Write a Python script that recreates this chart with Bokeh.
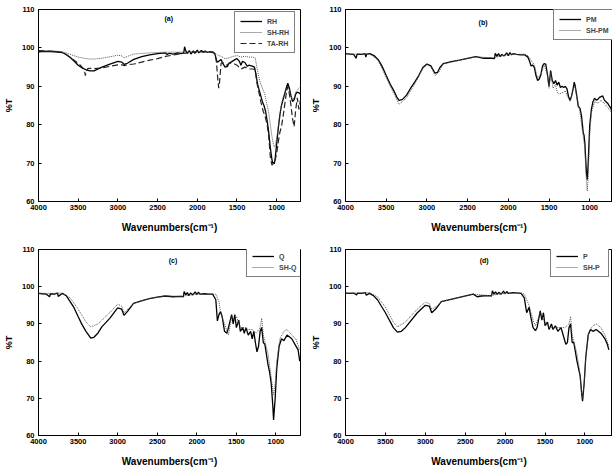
from bokeh.plotting import figure
from bokeh.layouts import gridplot
from bokeh.models import Range1d, FixedTicker, Legend, LegendItem, Label
from bokeh.embed import file_html
from bokeh.resources import INLINE

# ---------------- (a) rice husk series ----------------
RH_WN = [4000, 3900, 3800, 3700, 3650, 3600, 3550, 3500, 3450, 3400, 3350, 3300, 3250, 3200, 3100,
         3000, 2950, 2920, 2880, 2800, 2700, 2600, 2500, 2400, 2380, 2350, 2300, 2250, 2200, 2170,
         2160, 2150, 2130, 2100, 2080, 2050, 2030, 2000, 1980, 1950, 1920, 1900, 1870, 1850, 1800,
         1780, 1760, 1750, 1730, 1700, 1680, 1650, 1620, 1600, 1560, 1520, 1500, 1470, 1450, 1430,
         1400, 1370, 1350, 1300, 1280, 1260, 1240, 1220, 1200, 1180, 1160, 1140, 1120, 1100, 1080,
         1060, 1050, 1040, 1030, 1020, 1000, 980, 960, 940, 920, 900, 880, 860, 840, 820, 800, 780,
         760, 740, 720, 700]
RH_T = [99.0, 99.1, 99.0, 98.8, 98.2, 97.5, 96.5, 95.5, 94.8, 94.3, 94.0, 94.0, 94.5, 95.0, 95.8,
        96.5, 96.3, 95.7, 96.0, 97.0, 97.7, 98.2, 98.5, 98.7, 98.3, 98.6, 98.4, 98.7, 98.5, 98.8,
        100.3, 99.5, 98.6, 99.3, 98.4, 99.2, 98.6, 99.4, 98.7, 99.3, 98.9, 99.2, 98.8, 99.0, 98.8,
        98.5, 97.0, 96.3, 96.5, 97.0, 96.0, 95.0, 95.2, 96.0, 96.5, 97.0, 97.2, 96.5, 95.5, 96.5,
        96.2, 95.2, 95.5, 95.2, 95.0, 93.0, 90.5, 89.0, 87.5, 86.0, 85.0, 83.5, 81.0, 78.0, 74.0,
        71.0, 70.0, 70.2, 69.8, 71.0, 75.0, 79.0, 82.5, 85.0, 86.5, 88.0, 89.5, 90.8, 89.5, 87.5,
        86.0, 86.5, 88.0, 88.5, 88.3, 88.0]

SHRH_WN = [4000, 3800, 3700, 3650, 3600, 3500, 3400, 3350, 3300, 3200, 3100, 3000, 2950, 2920, 2880,
           2800, 2600, 2400, 2200, 2000, 1800, 1780, 1750, 1700, 1650, 1600, 1550, 1500, 1450, 1400,
           1350, 1300, 1270, 1250, 1220, 1200, 1150, 1100, 1080, 1060, 1040, 1030, 1020, 1000, 980,
           950, 920, 900, 880, 860, 840, 820, 800, 780, 760, 740, 720, 700]
SHRH_T = [99.2, 99.2, 99.0, 98.7, 98.3, 97.6, 97.2, 97.1, 97.1, 97.3, 97.7, 98.1, 97.9, 97.4, 97.8,
          98.4, 98.7, 98.9, 98.9, 99.0, 98.9, 98.7, 98.2, 97.8, 97.2, 97.4, 97.8, 98.0, 97.6, 97.8,
          97.6, 97.6, 97.4, 95.0, 92.0, 90.5, 88.0, 83.0, 80.0, 77.0, 74.8, 74.2, 74.3, 76.5, 79.5,
          84.0, 87.0, 88.0, 89.0, 90.0, 89.0, 87.5, 86.5, 87.0, 88.5, 89.0, 89.5, 90.0]

TARH_WN = [4000, 3800, 3700, 3650, 3600, 3500, 3450, 3420, 3410, 3400, 3380, 3350, 3300, 3200, 3100,
           3000, 2950, 2920, 2880, 2800, 2700, 2600, 2500, 2400, 2200, 2000, 1800, 1780, 1760, 1740,
           1730, 1720, 1700, 1680, 1650, 1620, 1600, 1550, 1500, 1450, 1400, 1350, 1300, 1270, 1250,
           1220, 1200, 1170, 1150, 1120, 1100, 1080, 1060, 1040, 1020, 1000, 980, 960, 940, 920, 900,
           880, 860, 840, 820, 800, 780, 760, 740, 720, 700]
TARH_T = [99.3, 99.1, 98.8, 98.3, 97.5, 96.0, 95.0, 94.0, 92.8, 94.0, 94.6, 94.7, 94.6, 94.8, 95.2,
          95.6, 95.6, 95.4, 95.6, 95.8, 96.3, 96.8, 97.2, 97.8, 98.5, 99.0, 98.9, 98.5, 96.5, 91.5,
          89.5, 91.0, 96.0, 96.2, 95.5, 95.6, 96.0, 96.0, 95.5, 94.5, 95.0, 94.5, 94.5, 94.3, 91.0,
          88.0, 86.0, 83.5, 82.5, 80.0, 77.0, 71.5, 69.5, 70.0, 70.8, 72.5, 75.5, 78.0, 79.5, 82.0, 85.0,
          88.0, 90.0, 88.0, 85.0, 81.5, 79.5, 84.0, 87.0, 84.0, 86.5]

# ---------------- (b) PM series ----------------
PM_WN = [4000, 3950, 3900, 3870, 3860, 3850, 3800, 3760, 3750, 3740, 3700, 3650, 3600, 3550, 3500,
         3450, 3400, 3370, 3340, 3300, 3250, 3200, 3150, 3100, 3050, 3000, 2950, 2900, 2870, 2840,
         2800, 2700, 2600, 2500, 2400, 2300, 2200, 2170, 2160, 2140, 2120, 2100, 2080, 2050, 2020,
         2000, 1980, 1960, 1940, 1900, 1850, 1800, 1760, 1740, 1720, 1700, 1680, 1660, 1640, 1620,
         1600, 1580, 1560, 1540, 1520, 1500, 1480, 1460, 1440, 1420, 1400, 1380, 1360, 1340, 1320,
         1300, 1280, 1260, 1240, 1220, 1200, 1190, 1180, 1160, 1140, 1120, 1100, 1080, 1070, 1060,
         1050, 1040, 1030, 1020, 1010, 1000, 980, 960, 940, 920, 900, 880, 860, 840, 820, 800, 780,
         760, 740, 720, 700]
PM_T = [98.5, 98.4, 98.3, 97.3, 98.2, 98.4, 98.3, 98.5, 97.6, 98.4, 98.5, 98.0, 97.0, 95.2, 92.8,
        90.5, 88.6, 87.2, 86.3, 86.6, 87.7, 89.5, 91.1, 92.8, 94.9, 95.8, 95.3, 93.4, 93.6, 94.9,
        95.9, 96.4, 96.8, 97.3, 97.7, 97.3, 97.3, 97.2, 98.6, 97.8, 98.5, 97.7, 98.3, 97.9, 98.7,
        98.0, 98.8, 98.2, 98.5, 98.3, 98.2, 98.2, 97.6, 96.6, 95.3, 95.5, 94.9, 92.8, 91.5, 91.9,
        93.0, 95.3, 95.9, 95.8, 93.2, 90.0, 94.1, 91.5, 90.7, 91.5, 90.3, 91.1, 89.7, 90.0, 89.7,
        90.0, 89.4, 87.3, 86.4, 87.7, 89.8, 91.1, 90.3, 87.7, 84.7, 84.3, 82.2, 78.0, 77.3, 75.4,
        71.2, 67.4, 65.7, 69.5, 74.6, 79.7, 83.9, 86.0, 86.9, 86.4, 86.6, 87.1, 87.3, 87.5, 86.4,
        86.0, 85.6, 84.9, 84.3, 83.1, 82.0]

SHPM_WN = [4000, 3800, 3700, 3600, 3500, 3400, 3340, 3250, 3150, 3050, 3000, 2950, 2900, 2850, 2800,
           2600, 2400, 2200, 2000, 1800, 1760, 1720, 1680, 1640, 1600, 1560, 1520, 1500, 1480, 1450,
           1420, 1400, 1380, 1350, 1320, 1300, 1260, 1240, 1200, 1180, 1160, 1120, 1100, 1080, 1060,
           1040, 1030, 1020, 1000, 980, 940, 900, 860, 820, 800, 760, 720, 700]
SHPM_T = [98.4, 98.4, 98.4, 96.8, 92.3, 87.8, 85.3, 87.0, 90.6, 94.6, 95.6, 95.0, 92.8, 93.8, 95.8,
          96.8, 97.7, 97.4, 98.2, 98.4, 98.0, 96.8, 95.5, 92.2, 93.0, 95.6, 93.0, 89.5, 93.5, 89.5,
          90.5, 88.5, 88.0, 88.2, 88.5, 88.8, 86.8, 86.0, 89.5, 90.0, 87.2, 83.5, 80.0, 77.0, 74.0,
          65.0, 62.7, 66.0, 77.5, 83.0, 86.0, 85.6, 86.3, 85.6, 85.0, 84.0, 82.8, 81.8]

# ---------------- (c) Q series ----------------
Q_WN = [4000, 3950, 3900, 3860, 3850, 3800, 3760, 3750, 3700, 3650, 3600, 3550, 3500, 3450, 3400,
        3340, 3300, 3250, 3200, 3100, 3000, 2950, 2920, 2870, 2800, 2700, 2600, 2500, 2400, 2300,
        2200, 2170, 2160, 2140, 2120, 2100, 2080, 2050, 2020, 2000, 1980, 1960, 1900, 1850, 1800,
        1760, 1740, 1720, 1700, 1680, 1650, 1620, 1600, 1560, 1540, 1520, 1500, 1470, 1450, 1420,
        1400, 1380, 1350, 1320, 1300, 1280, 1260, 1240, 1220, 1200, 1180, 1160, 1140, 1100, 1080,
        1060, 1040, 1030, 1010, 990, 960, 930, 900, 860, 800, 760, 720, 700]
Q_T = [98.2, 98.1, 98.0, 97.3, 98.1, 98.0, 98.3, 97.4, 98.2, 97.6, 96.0, 94.3, 92.0, 89.8, 88.0,
       86.2, 86.4, 87.5, 89.2, 91.5, 94.3, 94.0, 92.3, 93.5, 95.5, 96.2, 96.8, 97.2, 97.5, 97.3,
       97.4, 97.3, 98.7, 97.8, 98.4, 97.6, 98.3, 97.8, 98.6, 97.9, 98.5, 98.0, 98.1, 98.0, 98.0,
       96.5, 90.8, 92.5, 93.3, 92.0, 88.0, 87.5, 89.0, 92.5, 90.0, 92.5, 89.0, 91.0, 88.0, 89.0,
       87.5, 89.0, 87.0, 88.0, 86.0, 88.0, 85.0, 82.5, 84.0, 88.0, 89.0, 85.0, 84.5, 79.0, 77.0,
       74.0, 68.0, 64.2, 70.0, 78.0, 84.0, 86.0, 85.5, 87.0, 86.0, 84.5, 83.0, 80.0]

SHQ_WN = [4000, 3800, 3700, 3600, 3500, 3400, 3340, 3250, 3100, 3000, 2950, 2920, 2870, 2800, 2600,
          2400, 2200, 2000, 1800, 1760, 1720, 1700, 1650, 1600, 1560, 1520, 1500, 1450, 1400, 1350,
          1300, 1250, 1200, 1180, 1160, 1100, 1050, 1030, 1010, 990, 950, 900, 860, 800, 750, 700]
SHQ_T = [98.2, 98.2, 98.3, 97.0, 94.0, 90.5, 89.2, 90.0, 93.0, 95.3, 94.8, 93.0, 94.0, 95.5, 96.8,
         97.5, 97.4, 98.0, 98.0, 98.0, 96.0, 93.0, 90.0, 87.0, 92.0, 91.0, 92.0, 89.0, 89.0, 88.5,
         88.5, 87.5, 89.0, 91.5, 87.0, 82.0, 74.0, 71.0, 74.0, 80.0, 86.0, 88.0, 88.5, 87.0, 86.0,
         83.0]

# ---------------- (d) P series ----------------
P_WN = [4000, 3950, 3900, 3860, 3850, 3800, 3750, 3740, 3700, 3650, 3600, 3500, 3400, 3350, 3300,
        3250, 3100, 3000, 2950, 2920, 2870, 2800, 2600, 2400, 2350, 2300, 2200, 2170, 2160, 2140,
        2120, 2100, 2080, 2050, 2020, 2000, 1980, 1960, 1900, 1800, 1760, 1730, 1700, 1680, 1650,
        1620, 1600, 1560, 1540, 1520, 1500, 1470, 1450, 1420, 1400, 1370, 1340, 1300, 1260, 1240,
        1220, 1200, 1180, 1160, 1140, 1100, 1080, 1060, 1040, 1030, 1010, 990, 960, 930, 900, 860,
        800, 750, 720, 700]
P_T = [98.3, 98.2, 98.3, 97.8, 98.3, 98.2, 98.4, 97.7, 98.2, 97.6, 96.5, 93.0, 89.0, 87.8, 88.0,
       89.0, 93.0, 95.0, 94.8, 93.0, 94.0, 96.0, 97.0, 98.0, 97.3, 97.5, 97.6, 97.5, 98.9, 98.0,
       98.6, 97.9, 98.5, 98.0, 98.8, 98.1, 98.7, 98.2, 98.4, 98.2, 97.0, 93.0, 94.5, 92.0, 89.0,
       88.2, 89.0, 93.5, 91.0, 93.0, 89.5, 90.5, 88.5, 90.0, 88.5, 89.5, 88.0, 89.0, 86.0, 84.5,
       85.0, 89.0, 90.0, 85.0, 85.0, 80.0, 78.0, 76.0, 71.0, 69.2, 74.0, 81.0, 87.0, 88.5, 88.0, 88.5,
       87.5, 86.0, 84.5, 83.0]

SHP_WN = [4000, 3800, 3700, 3600, 3500, 3400, 3350, 3250, 3100, 3000, 2950, 2920, 2870, 2800, 2600,
          2400, 2200, 2000, 1800, 1760, 1720, 1700, 1650, 1620, 1560, 1500, 1450, 1400, 1300, 1250,
          1200, 1180, 1160, 1100, 1070, 1040, 1030, 1010, 990, 950, 900, 860, 800, 750, 700]
SHP_T = [98.3, 98.3, 98.4, 97.3, 94.5, 90.5, 89.2, 90.5, 94.0, 95.8, 95.5, 94.0, 94.5, 96.0, 97.0,
         98.0, 97.6, 98.2, 98.3, 98.0, 96.0, 95.0, 91.0, 89.5, 93.0, 90.5, 89.0, 89.0, 89.0, 89.0,
         90.0, 92.0, 87.0, 82.0, 78.0, 71.0, 70.0, 74.0, 81.0, 88.0, 89.5, 90.0, 89.0, 87.0, 84.0]

Y_TICKS = [60, 70, 80, 90, 100, 110]
X_TICKS = [4000, 3500, 3000, 2500, 2000, 1500, 1000]

FONT = "Liberation Sans"
SOLID = dict(line_color="black", line_width=1.3)
DOTTED = dict(line_color="#555555", line_width=1.0, line_dash="1 1")
DASHED = dict(line_color="#222222", line_width=1.2, line_dash="6 3")


def panel(width, height, borders, x_end, tag, tag_xy, series, legend_loc):
    left, right, top, bottom = borders
    p = figure(width=width, height=height, output_backend="svg", toolbar_location=None,
               x_range=Range1d(4000, x_end), y_range=Range1d(60, 110))
    p.min_border_left, p.min_border_right = left, right
    p.min_border_top, p.min_border_bottom = top, bottom
    p.grid.visible = False
    p.outline_line_color = "black"
    p.outline_line_width = 1
    p.background_fill_color = "white"
    p.border_fill_color = "white"

    p.xaxis.ticker = FixedTicker(ticks=X_TICKS)
    p.yaxis.ticker = FixedTicker(ticks=Y_TICKS)
    for ax in (p.xaxis[0], p.yaxis[0]):
        ax.major_tick_in = 3
        ax.major_tick_out = 0
        ax.minor_tick_line_color = None
        ax.axis_line_color = "black"
        ax.major_tick_line_color = "black"
        ax.major_label_text_font = FONT
        ax.major_label_text_font_style = "bold"
        ax.major_label_text_font_size = "7.5px"
        ax.major_label_text_color = "black"
        ax.axis_label_text_font = FONT
        ax.axis_label_text_font_style = "bold"
        ax.axis_label_text_color = "black"
    p.xaxis.major_label_standoff = 3
    p.yaxis.major_label_standoff = 4
    p.xaxis.axis_label = "Wavenumbers(cm\u207b\u00b9)"
    p.xaxis.axis_label_text_font_size = "10px"
    p.xaxis.axis_label_standoff = 9
    p.yaxis.axis_label = "%T"
    p.yaxis.axis_label_text_font_size = "9px"
    p.yaxis.axis_label_standoff = 5

    items = []
    for name, wn, t, style in series:
        r = p.line(wn, t, **style)
        items.append(LegendItem(label=name, renderers=[r]))

    leg = Legend(items=items, location=legend_loc,
                 label_text_font=FONT, label_text_font_style="bold",
                 label_text_font_size="7px", label_height=8, glyph_height=8,
                 glyph_width=22, label_standoff=5, spacing=3, padding=5, margin=0,
                 border_line_color="black", border_line_width=1,
                 background_fill_color="white", background_fill_alpha=1)
    p.add_layout(leg)

    p.add_layout(Label(x=tag_xy[0], y=tag_xy[1], text=tag, text_align="center",
                       text_baseline="middle", text_font=FONT, text_font_style="bold",
                       text_font_size="7px", text_color="black"))
    return p


pa = panel(306, 235, (33, 6, 9, 34), 700, "(a)", (2360, 107.7),
           [("RH", RH_WN, RH_T, SOLID),
            ("SH-RH", SHRH_WN, SHRH_T, DOTTED),
            ("TA-RH", TARH_WN, TARH_T, DASHED)], (196, 148))
pb = panel(306, 235, (36, 0, 8, 32), 720, "(b)", (2310, 106.6),
           [("PM", PM_WN, PM_T, SOLID),
            ("SH-PM", SHPM_WN, SHPM_T, DOTTED)], (208, 161))
pc = panel(306, 234, (36, 4, 13, 31), 690, "(c)", (2300, 107.0),
           [("Q", Q_WN, Q_T, SOLID),
            ("SH-Q", SHQ_WN, SHQ_T, DOTTED)], (208, 158))
pd = panel(306, 234, (39, 0, 14, 31), 655, "(d)", (2262, 107.1),
           [("P", P_WN, P_T, SOLID),
            ("SH-P", SHP_WN, SHP_T, DOTTED)], (205, 158))

grid = gridplot([[pa, pb], [pc, pd]], toolbar_location=None)

open("out.html", "w").write(file_html(grid, INLINE))
